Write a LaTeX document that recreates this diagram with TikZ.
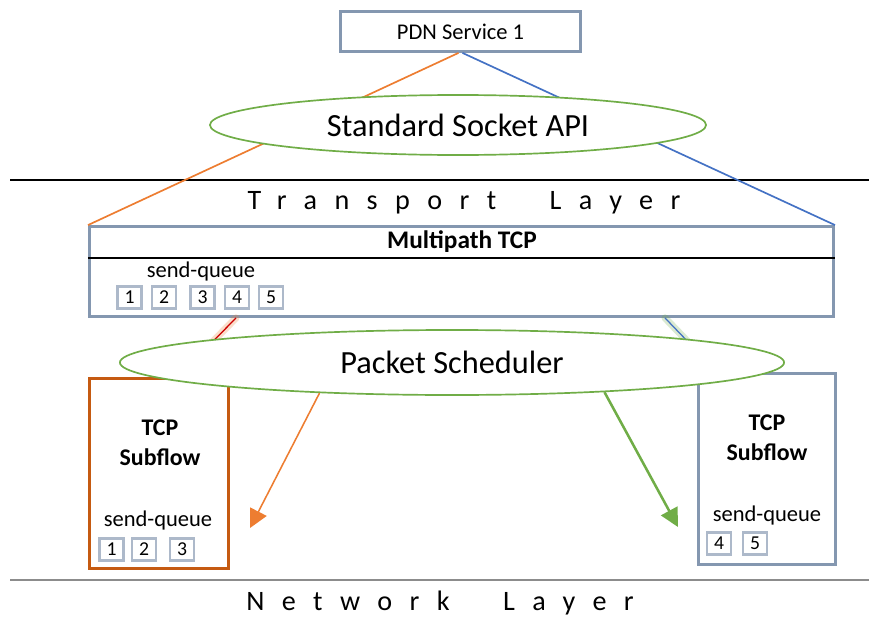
\documentclass[tikz,border=0pt]{standalone}
\usepackage{fontspec}
\setmainfont{Carlito}
\usetikzlibrary{arrows.meta,positioning,shapes.geometric,calc}
\definecolor{slate}{HTML}{8497B0}
\definecolor{qgray}{HTML}{ADB9CA}
\definecolor{myorange}{HTML}{ED7D31}
\definecolor{darkorange}{HTML}{C55A11}
\definecolor{mygreen}{HTML}{70AD47}
\definecolor{myblue}{HTML}{4472C4}
\tikzset{
  box/.style={draw=slate, line width=2pt, fill=white, inner sep=2pt},
  qbox/.style={draw=qgray, line width=2pt, fill=white, minimum width=0.6cm, minimum height=0.56cm,
               inner sep=0pt, font=\fontsize{14}{16}\selectfont},
  oval/.style={ellipse, draw=mygreen, line width=1.2pt, fill=white, inner sep=0pt, font=\fontsize{23}{26}\selectfont},
  layer/.style={font=\fontsize{20}{24}\selectfont\addfontfeature{LetterSpace=62}},
  qlab/.style={font=\fontsize{16}{18}\selectfont},
  sublab/.style={font=\fontsize{17}{21}\selectfont\bfseries, align=center},
  glow/.style={line width=5pt, opacity=0.25, line cap=round},
  arr/.style={-{Triangle[length=4.6mm, width=4.6mm]}},
}
\begin{document}
\begin{tikzpicture}[x=0.025cm, y=-0.025cm]
  \useasboundingbox (0,0) rectangle (869,618);
  % layers
  \coordinate (tl) at (10,180); \coordinate (tr) at (869,180);
  \coordinate (nl) at (10,580); \coordinate (nr) at (869,580);
  \draw[line width=0.8pt] (tl) -- (tr);
  \draw[line width=0.8pt, black!45] (nl) -- (nr);
  \node[layer] (tlay) at (464,203) {Transport\hspace{1.9em}Layer};
  \node[layer] (nlay) at (440,603) {Network\hspace{1.9em}Layer};
  % boxes
  \node[box, minimum width=6.0cm, minimum height=1.0cm, font=\fontsize{16}{18}\selectfont] (pdn) at (460.5,31.5) {PDN Service 1};
  \node[box, minimum width=18.6cm, minimum height=2.25cm] (mp) at (461.5,271.5) {};
  \coordinate (hl) at (0,258);
  \draw[line width=1pt] (mp.west |- hl) -- (mp.east |- hl);
  \node[font=\fontsize{18}{20}\selectfont\bfseries] (mptitle) at (462,242) {Multipath TCP};
  \node[qlab] (mpq) at (201,271) {send-queue};
  \foreach \n/\x in {1/129.5,2/164,3/202.5,4/237,5/271}
    \node[qbox] (mq\n) at (\x,297.5) {\n};
  \node[box, draw=darkorange, minimum width=3.475cm, minimum height=4.75cm] (lsub) at (159,473.5) {};
  \node[box, minimum width=3.425cm, minimum height=4.775cm] (rsub) at (767,469) {};
  \node[sublab] (ltcp) at (160,443) {TCP\\Subflow};
  \node[sublab] (rtcp) at (767,438) {TCP\\Subflow};
  \node[qlab] (lq) at (158,520) {send-queue};
  \node[qlab] (rq) at (767,515) {send-queue};
  \foreach \n/\x in {1/111.5,2/144,3/182}
    \node[qbox] (lq\n) at (\x,549.5) {\n};
  \foreach \n/\x in {4/719,5/755}
    \node[qbox] (rq\n) at (\x,543.5) {\n};
  % connections
  \draw[myorange, line width=1.2pt] ([xshift=-0.05cm]pdn.south) -- (mp.north west);
  \draw[myblue, line width=1.2pt] ([xshift=0.05cm]pdn.south) -- (mp.north east);
  \draw[glow, myorange] ($(mp.south west)+(148,0)$) -- ($(lsub.north west)+(90,0)$);
  \draw[red!80!black, line width=0.9pt] ($(mp.south west)+(148,0)$) -- ($(lsub.north west)+(90,0)$);
  \draw[glow, mygreen] ($(mp.south west)+(577,0)$) -- ($(rsub.north west)+(20,0)$);
  \draw[myblue, line width=0.9pt] ($(mp.south west)+(577,0)$) -- ($(rsub.north west)+(20,0)$);
  % ovals
  \node[oval, minimum width=12.4cm, minimum height=1.5cm] (api) at (458,125) {Standard Socket API};
  \node[oval, minimum width=16.6cm, minimum height=1.625cm] (sched) at (452,362.5) {Packet Scheduler};
  % scheduler arrows
  \coordinate (la) at (250,528);
  \coordinate (ra) at (678,527);
  \draw[arr, myorange, line width=1.1pt] (sched.193) -- (la);
  \draw[arr, mygreen, line width=1.8pt] (sched.349) -- (ra);
\end{tikzpicture}
\end{document}
